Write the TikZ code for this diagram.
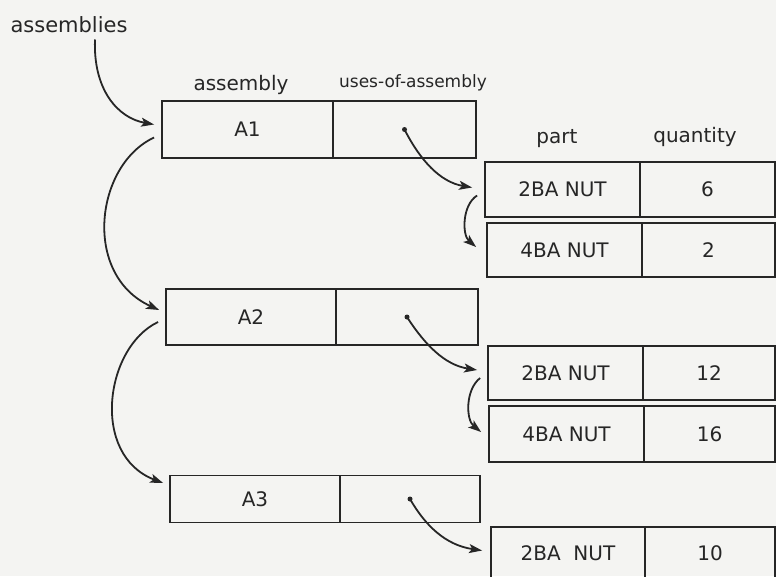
\documentclass[tikz,border=0pt]{standalone}
\usepackage{fontspec}
\setmainfont{DejaVu Sans}
\usetikzlibrary{arrows.meta,calc}
\definecolor{ink}{HTML}{262626}
\definecolor{paper}{HTML}{F4F4F2}

\begin{document}
\begin{tikzpicture}[x=1pt,y=-1pt,
  cell/.style={draw=ink, line width=1.8pt, rectangle, inner sep=0pt, text=ink,
    font=\fontsize{20}{20}\selectfont},
  hdr/.style={text=ink, inner sep=0pt, anchor=base, font=\fontsize{20}{20}\selectfont},
  ptr/.style={draw=ink, line width=1.8pt, -{Stealth[length=13pt,width=9pt,inset=3pt]}},
  dot/.style={circle, fill=ink, inner sep=0pt, minimum size=5pt}]

\fill[paper] (0,0) rectangle (776,576);
\useasboundingbox (0,0) rectangle (776,576);

% list head and column headings
\node[hdr, font=\fontsize{21}{21}\selectfont] (asm) at (69,32) {assemblies};
\node[hdr] (hasm) at (241,90) {assembly};
\node[hdr, font=\fontsize{17}{17}\selectfont] (huse) at (413,87) {uses-of-assembly};
\node[hdr] (hpart) at (557,143) {part};
\node[hdr] (hqty) at (695,142) {quantity};

% assembly records
\node[cell, minimum width=171pt, minimum height=57pt] (a1)  at (247.5,129.5) {A1};
\node[cell, minimum width=143pt, minimum height=57pt] (a1u) at (404.5,129.5) {};
\node[cell, minimum width=170pt, minimum height=56pt] (a2)  at (251,317) {A2};
\node[cell, minimum width=142pt, minimum height=56pt] (a2u) at (407,317) {};
\node[cell, minimum width=170pt, minimum height=47pt] (a3)  at (255,499) {A3};
\node[cell, minimum width=140pt, minimum height=47pt] (a3u) at (410,499) {};

% part/quantity records
\node[cell, minimum width=155pt, minimum height=55pt] (p11) at (562.5,189.5) {2BA NUT};
\node[cell, minimum width=135pt, minimum height=55pt] (q11) at (707.5,189.5) {6};
\node[cell, minimum width=155pt, minimum height=54pt] (p12) at (564.5,250) {4BA NUT};
\node[cell, minimum width=133pt, minimum height=54pt] (q12) at (708.5,250) {2};
\node[cell, minimum width=155pt, minimum height=54pt] (p21) at (565.5,373) {2BA NUT};
\node[cell, minimum width=132pt, minimum height=54pt] (q21) at (709,373) {12};
\node[cell, minimum width=155pt, minimum height=56pt] (p22) at (566.5,434) {4BA NUT};
\node[cell, minimum width=131pt, minimum height=56pt] (q22) at (709.5,434) {16};
\node[cell, minimum width=154pt, minimum height=53pt] (p31) at (568,553.5) {2BA\ \ NUT};
\node[cell, minimum width=130pt, minimum height=53pt] (q31) at (710,553.5) {10};

% pointer origins
\node[dot] (d1) at (a1u.center) {};
\node[dot] (d2) at (a2u.center) {};
\node[dot] (d3) at (a3u.center) {};

% chain of assemblies
\draw[ptr] ($(asm.south)+(26,7)$) .. controls (93,90) and (118,118) .. ($(a1.west)+(-7,-5)$);
\draw[ptr] ($(a1.west)+(-7,8)$) .. controls (95,165) and (82,275) .. ($(a2.west)+(-6,-7)$);
\draw[ptr] ($(a2.west)+(-7,5)$) .. controls (105,347) and (90,455) .. ($(a3.west)+(-6,-16)$);

% uses-of-assembly lists
\draw[ptr] (d1.center) .. controls (420,160) and (440,182) .. ($(p11.west)+(-12,-2)$);
\draw[ptr] ($(p11.west)+(-7,6)$) .. controls (462,205) and (462,235) .. ($(p12.west)+(-10,-3)$);
\draw[ptr] (d2.center) .. controls (425,345) and (445,365) .. ($(p21.west)+(-10,-3)$);
\draw[ptr] ($(p21.west)+(-7,5)$) .. controls (465,390) and (466,420) .. ($(p22.west)+(-7,-2)$);
\draw[ptr] (d3.center) .. controls (425,525) and (445,545) .. ($(p31.west)+(-8,-3)$);
\end{tikzpicture}
\end{document}
